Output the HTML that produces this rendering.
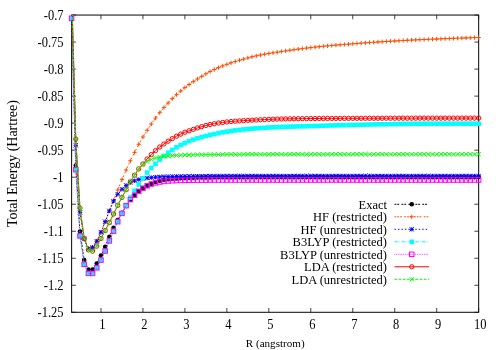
<!DOCTYPE html><html><head><meta charset="utf-8"><title>H2 dissociation</title>
<style>html,body{margin:0;padding:0;background:#fff}svg{display:block;will-change:transform}text{font-family:"Liberation Serif",serif;font-size:12.5px;fill:#000}</style></head><body>
<svg width="500" height="350" viewBox="0 0 500 350">
<rect width="500" height="350" fill="#fff"/>
<defs>
<clipPath id="cp"><rect x="71.6" y="15.05" width="407.04999999999995" height="297.25"/></clipPath>
<g id="dot"><circle r="2.3" stroke="none" fill="currentColor"/></g>
<g id="plus"><path d="M-2.15 0H2.15M0 -2.15V2.15" fill="none"/></g>
<g id="x"><path d="M-2.15 -2.15L2.15 2.15M-2.15 2.15L2.15 -2.15" fill="none"/></g>
<g id="star"><path d="M-2.15 0H2.15M0 -2.15V2.15M-2.15 -2.15L2.15 2.15M-2.15 2.15L2.15 -2.15" fill="none"/></g>
<g id="boxf"><rect x="-2.3" y="-2.3" width="4.6" height="4.6" fill="currentColor" stroke="none"/></g>
<g id="box"><rect x="-2.25" y="-2.25" width="4.5" height="4.5" fill="none"/></g>
<g id="circ"><circle r="2.15" fill="none"/></g>
</defs>
<g stroke="#111" stroke-width="1.05" fill="none"><rect x="71.6" y="15.05" width="407.04999999999995" height="297.25"/>
<path d="M71.6 15.05h4.3M478.65 15.05h-4.3M71.6 42.07h4.3M478.65 42.07h-4.3M71.6 69.10h4.3M478.65 69.10h-4.3M71.6 96.12h4.3M478.65 96.12h-4.3M71.6 123.14h4.3M478.65 123.14h-4.3M71.6 150.16h4.3M478.65 150.16h-4.3M71.6 177.19h4.3M478.65 177.19h-4.3M71.6 204.21h4.3M478.65 204.21h-4.3M71.6 231.23h4.3M478.65 231.23h-4.3M71.6 258.25h4.3M478.65 258.25h-4.3M71.6 285.28h4.3M478.65 285.28h-4.3M71.6 312.30h4.3M478.65 312.30h-4.3M100.97 312.3v-4.3M100.97 15.05v4.3M142.94 312.3v-4.3M142.94 15.05v4.3M184.90 312.3v-4.3M184.90 15.05v4.3M226.87 312.3v-4.3M226.87 15.05v4.3M268.83 312.3v-4.3M268.83 15.05v4.3M310.79 312.3v-4.3M310.79 15.05v4.3M352.76 312.3v-4.3M352.76 15.05v4.3M394.72 312.3v-4.3M394.72 15.05v4.3M436.69 312.3v-4.3M436.69 15.05v4.3M478.65 312.3v-4.3M478.65 15.05v4.3" stroke-width="0.8"/></g>
<text transform="translate(63.5,19.75) scale(1,1.1)" text-anchor="end">-0.7</text>
<text transform="translate(63.5,46.77) scale(1,1.1)" text-anchor="end">-0.75</text>
<text transform="translate(63.5,73.80) scale(1,1.1)" text-anchor="end">-0.8</text>
<text transform="translate(63.5,100.82) scale(1,1.1)" text-anchor="end">-0.85</text>
<text transform="translate(63.5,127.84) scale(1,1.1)" text-anchor="end">-0.9</text>
<text transform="translate(63.5,154.86) scale(1,1.1)" text-anchor="end">-0.95</text>
<text transform="translate(63.5,181.89) scale(1,1.1)" text-anchor="end">-1</text>
<text transform="translate(63.5,208.91) scale(1,1.1)" text-anchor="end">-1.05</text>
<text transform="translate(63.5,235.93) scale(1,1.1)" text-anchor="end">-1.1</text>
<text transform="translate(63.5,262.95) scale(1,1.1)" text-anchor="end">-1.15</text>
<text transform="translate(63.5,289.98) scale(1,1.1)" text-anchor="end">-1.2</text>
<text transform="translate(63.5,317.00) scale(1,1.1)" text-anchor="end">-1.25</text>
<text transform="translate(102.47,329.3) scale(1,1.1)" text-anchor="middle">1</text>
<text transform="translate(144.44,329.3) scale(1,1.1)" text-anchor="middle">2</text>
<text transform="translate(186.40,329.3) scale(1,1.1)" text-anchor="middle">3</text>
<text transform="translate(228.37,329.3) scale(1,1.1)" text-anchor="middle">4</text>
<text transform="translate(270.33,329.3) scale(1,1.1)" text-anchor="middle">5</text>
<text transform="translate(312.29,329.3) scale(1,1.1)" text-anchor="middle">6</text>
<text transform="translate(354.26,329.3) scale(1,1.1)" text-anchor="middle">7</text>
<text transform="translate(396.22,329.3) scale(1,1.1)" text-anchor="middle">8</text>
<text transform="translate(438.19,329.3) scale(1,1.1)" text-anchor="middle">9</text>
<text transform="translate(480.15,329.3) scale(1,1.1)" text-anchor="middle">10</text>
<text x="275.2" y="347.1" text-anchor="middle" style="font-size:11.1px">R (angstrom)</text>
<text transform="translate(17.2,163.6) rotate(-90)" text-anchor="middle" style="font-size:14px">Total Energy (Hartree)</text>
<text x="387" y="208.60" text-anchor="end">Exact</text>
<g stroke="#000000" color="#000000" stroke-width="1.0" fill="none">
<path d="M394.5 204.30H429" stroke-dasharray="1.9,0.9,1.9,2.25"/><use href="#dot" x="411.75" y="204.30"/>
<polyline points="71.60,13.00 75.80,165.50 79.99,231.60 84.19,260.10 88.39,269.50 92.58,269.50 96.78,263.60 100.97,255.60 105.17,246.80 109.37,236.70 113.56,227.70 117.76,220.00 121.96,212.80 126.15,206.00 130.35,199.80 134.55,195.40 138.74,191.20 142.94,188.20 147.14,185.80 151.33,183.80 155.53,182.20 159.72,181.00 163.92,180.00 168.12,179.30 172.31,178.80 176.51,178.43 180.71,178.12 184.90,177.90 189.10,177.76 193.30,177.64 197.49,177.54 201.69,177.46 205.88,177.40 210.08,177.35 214.28,177.30 218.47,177.26 222.67,177.22 226.87,177.20 231.06,177.18 235.26,177.17 239.46,177.15 243.65,177.14 247.85,177.13 252.04,177.12 256.24,177.11 260.44,177.10 264.63,177.10 268.83,177.10 273.03,177.10 277.22,177.10 281.42,177.10 285.62,177.10 289.81,177.10 294.01,177.10 298.21,177.10 302.40,177.10 306.60,177.10 310.79,177.10 314.99,177.10 319.19,177.10 323.38,177.10 327.58,177.10 331.78,177.10 335.97,177.10 340.17,177.10 344.37,177.10 348.56,177.10 352.76,177.10 356.95,177.10 361.15,177.10 365.35,177.10 369.54,177.10 373.74,177.10 377.94,177.10 382.13,177.10 386.33,177.10 390.53,177.10 394.72,177.10 398.92,177.10 403.11,177.10 407.31,177.10 411.51,177.10 415.70,177.10 419.90,177.10 424.10,177.10 428.29,177.10 432.49,177.10 436.69,177.10 440.88,177.10 445.08,177.10 449.28,177.10 453.47,177.10 457.67,177.10 461.86,177.10 466.06,177.10 470.26,177.10 474.45,177.10 478.65,177.10" stroke-dasharray="1.9,0.9,1.9,2.25" clip-path="url(#cp)"/>
<use href="#dot" x="75.80" y="165.50"/>
<use href="#dot" x="79.99" y="231.60"/>
<use href="#dot" x="84.19" y="260.10"/>
<use href="#dot" x="88.39" y="269.50"/>
<use href="#dot" x="92.58" y="269.50"/>
<use href="#dot" x="96.78" y="263.60"/>
<use href="#dot" x="100.97" y="255.60"/>
<use href="#dot" x="105.17" y="246.80"/>
<use href="#dot" x="109.37" y="236.70"/>
<use href="#dot" x="113.56" y="227.70"/>
<use href="#dot" x="117.76" y="220.00"/>
<use href="#dot" x="121.96" y="212.80"/>
<use href="#dot" x="126.15" y="206.00"/>
<use href="#dot" x="130.35" y="199.80"/>
<use href="#dot" x="134.55" y="195.40"/>
<use href="#dot" x="138.74" y="191.20"/>
<use href="#dot" x="142.94" y="188.20"/>
<use href="#dot" x="147.14" y="185.80"/>
<use href="#dot" x="151.33" y="183.80"/>
<use href="#dot" x="155.53" y="182.20"/>
<use href="#dot" x="159.72" y="181.00"/>
<use href="#dot" x="163.92" y="180.00"/>
<use href="#dot" x="168.12" y="179.30"/>
<use href="#dot" x="172.31" y="178.80"/>
<use href="#dot" x="176.51" y="178.43"/>
<use href="#dot" x="180.71" y="178.12"/>
<use href="#dot" x="184.90" y="177.90"/>
<use href="#dot" x="189.10" y="177.76"/>
<use href="#dot" x="193.30" y="177.64"/>
<use href="#dot" x="197.49" y="177.54"/>
<use href="#dot" x="201.69" y="177.46"/>
<use href="#dot" x="205.88" y="177.40"/>
<use href="#dot" x="210.08" y="177.35"/>
<use href="#dot" x="214.28" y="177.30"/>
<use href="#dot" x="218.47" y="177.26"/>
<use href="#dot" x="222.67" y="177.22"/>
<use href="#dot" x="226.87" y="177.20"/>
<use href="#dot" x="231.06" y="177.18"/>
<use href="#dot" x="235.26" y="177.17"/>
<use href="#dot" x="239.46" y="177.15"/>
<use href="#dot" x="243.65" y="177.14"/>
<use href="#dot" x="247.85" y="177.13"/>
<use href="#dot" x="252.04" y="177.12"/>
<use href="#dot" x="256.24" y="177.11"/>
<use href="#dot" x="260.44" y="177.10"/>
<use href="#dot" x="264.63" y="177.10"/>
<use href="#dot" x="268.83" y="177.10"/>
<use href="#dot" x="273.03" y="177.10"/>
<use href="#dot" x="277.22" y="177.10"/>
<use href="#dot" x="281.42" y="177.10"/>
<use href="#dot" x="285.62" y="177.10"/>
<use href="#dot" x="289.81" y="177.10"/>
<use href="#dot" x="294.01" y="177.10"/>
<use href="#dot" x="298.21" y="177.10"/>
<use href="#dot" x="302.40" y="177.10"/>
<use href="#dot" x="306.60" y="177.10"/>
<use href="#dot" x="310.79" y="177.10"/>
<use href="#dot" x="314.99" y="177.10"/>
<use href="#dot" x="319.19" y="177.10"/>
<use href="#dot" x="323.38" y="177.10"/>
<use href="#dot" x="327.58" y="177.10"/>
<use href="#dot" x="331.78" y="177.10"/>
<use href="#dot" x="335.97" y="177.10"/>
<use href="#dot" x="340.17" y="177.10"/>
<use href="#dot" x="344.37" y="177.10"/>
<use href="#dot" x="348.56" y="177.10"/>
<use href="#dot" x="352.76" y="177.10"/>
<use href="#dot" x="356.95" y="177.10"/>
<use href="#dot" x="361.15" y="177.10"/>
<use href="#dot" x="365.35" y="177.10"/>
<use href="#dot" x="369.54" y="177.10"/>
<use href="#dot" x="373.74" y="177.10"/>
<use href="#dot" x="377.94" y="177.10"/>
<use href="#dot" x="382.13" y="177.10"/>
<use href="#dot" x="386.33" y="177.10"/>
<use href="#dot" x="390.53" y="177.10"/>
<use href="#dot" x="394.72" y="177.10"/>
<use href="#dot" x="398.92" y="177.10"/>
<use href="#dot" x="403.11" y="177.10"/>
<use href="#dot" x="407.31" y="177.10"/>
<use href="#dot" x="411.51" y="177.10"/>
<use href="#dot" x="415.70" y="177.10"/>
<use href="#dot" x="419.90" y="177.10"/>
<use href="#dot" x="424.10" y="177.10"/>
<use href="#dot" x="428.29" y="177.10"/>
<use href="#dot" x="432.49" y="177.10"/>
<use href="#dot" x="436.69" y="177.10"/>
<use href="#dot" x="440.88" y="177.10"/>
<use href="#dot" x="445.08" y="177.10"/>
<use href="#dot" x="449.28" y="177.10"/>
<use href="#dot" x="453.47" y="177.10"/>
<use href="#dot" x="457.67" y="177.10"/>
<use href="#dot" x="461.86" y="177.10"/>
<use href="#dot" x="466.06" y="177.10"/>
<use href="#dot" x="470.26" y="177.10"/>
<use href="#dot" x="474.45" y="177.10"/>
<use href="#dot" x="478.65" y="177.10"/>
</g>
<text x="387" y="221.10" text-anchor="end">HF (restricted)</text>
<g stroke="#ff4d00" color="#ff4d00" stroke-width="1.0" fill="none">
<path d="M394.5 216.80H429" stroke-dasharray="1.8,1.0,1.8,1.0,1.8,2.35"/><use href="#plus" x="411.75" y="216.80"/>
<polyline points="71.60,-6.00 75.80,145.30 79.99,212.30 84.19,239.10 88.39,248.60 92.58,247.30 96.78,241.20 100.97,232.20 105.17,221.70 109.37,210.90 113.56,200.40 117.76,190.00 121.96,179.60 126.15,170.00 130.35,160.80 134.55,152.40 138.74,144.30 142.94,137.00 147.14,130.30 151.33,124.00 155.53,118.10 159.72,112.70 163.92,107.60 168.12,103.00 172.31,98.60 176.51,94.60 180.71,91.00 184.90,87.60 189.10,84.50 193.30,81.60 197.49,79.00 201.69,76.40 205.88,73.80 210.08,71.60 214.28,69.50 218.47,67.60 222.67,65.90 226.87,64.30 231.06,62.80 235.26,61.50 239.46,60.20 243.65,59.10 247.85,57.90 252.04,56.80 256.24,55.90 260.44,55.00 264.63,54.20 268.83,53.50 273.03,52.80 277.22,52.20 281.42,51.50 285.62,50.90 289.81,50.30 294.01,49.70 298.21,49.14 302.40,48.60 306.60,48.09 310.79,47.60 314.99,47.14 319.19,46.70 323.38,46.28 327.58,45.88 331.78,45.50 335.97,45.13 340.17,44.78 344.37,44.45 348.56,44.12 352.76,43.80 356.95,43.48 361.15,43.17 365.35,42.86 369.54,42.56 373.74,42.28 377.94,42.00 382.13,41.73 386.33,41.47 390.53,41.22 394.72,40.97 398.92,40.74 403.11,40.51 407.31,40.29 411.51,40.08 415.70,39.89 419.90,39.70 424.10,39.51 428.29,39.34 432.49,39.17 436.69,39.00 440.88,38.84 445.08,38.67 449.28,38.51 453.47,38.36 457.67,38.21 461.86,38.06 466.06,37.91 470.26,37.77 474.45,37.63 478.65,37.50" stroke-dasharray="1.8,1.0,1.8,1.0,1.8,2.35" clip-path="url(#cp)"/>
<use href="#plus" x="75.80" y="145.30"/>
<use href="#plus" x="79.99" y="212.30"/>
<use href="#plus" x="84.19" y="239.10"/>
<use href="#plus" x="88.39" y="248.60"/>
<use href="#plus" x="92.58" y="247.30"/>
<use href="#plus" x="96.78" y="241.20"/>
<use href="#plus" x="100.97" y="232.20"/>
<use href="#plus" x="105.17" y="221.70"/>
<use href="#plus" x="109.37" y="210.90"/>
<use href="#plus" x="113.56" y="200.40"/>
<use href="#plus" x="117.76" y="190.00"/>
<use href="#plus" x="121.96" y="179.60"/>
<use href="#plus" x="126.15" y="170.00"/>
<use href="#plus" x="130.35" y="160.80"/>
<use href="#plus" x="134.55" y="152.40"/>
<use href="#plus" x="138.74" y="144.30"/>
<use href="#plus" x="142.94" y="137.00"/>
<use href="#plus" x="147.14" y="130.30"/>
<use href="#plus" x="151.33" y="124.00"/>
<use href="#plus" x="155.53" y="118.10"/>
<use href="#plus" x="159.72" y="112.70"/>
<use href="#plus" x="163.92" y="107.60"/>
<use href="#plus" x="168.12" y="103.00"/>
<use href="#plus" x="172.31" y="98.60"/>
<use href="#plus" x="176.51" y="94.60"/>
<use href="#plus" x="180.71" y="91.00"/>
<use href="#plus" x="184.90" y="87.60"/>
<use href="#plus" x="189.10" y="84.50"/>
<use href="#plus" x="193.30" y="81.60"/>
<use href="#plus" x="197.49" y="79.00"/>
<use href="#plus" x="201.69" y="76.40"/>
<use href="#plus" x="205.88" y="73.80"/>
<use href="#plus" x="210.08" y="71.60"/>
<use href="#plus" x="214.28" y="69.50"/>
<use href="#plus" x="218.47" y="67.60"/>
<use href="#plus" x="222.67" y="65.90"/>
<use href="#plus" x="226.87" y="64.30"/>
<use href="#plus" x="231.06" y="62.80"/>
<use href="#plus" x="235.26" y="61.50"/>
<use href="#plus" x="239.46" y="60.20"/>
<use href="#plus" x="243.65" y="59.10"/>
<use href="#plus" x="247.85" y="57.90"/>
<use href="#plus" x="252.04" y="56.80"/>
<use href="#plus" x="256.24" y="55.90"/>
<use href="#plus" x="260.44" y="55.00"/>
<use href="#plus" x="264.63" y="54.20"/>
<use href="#plus" x="268.83" y="53.50"/>
<use href="#plus" x="273.03" y="52.80"/>
<use href="#plus" x="277.22" y="52.20"/>
<use href="#plus" x="281.42" y="51.50"/>
<use href="#plus" x="285.62" y="50.90"/>
<use href="#plus" x="289.81" y="50.30"/>
<use href="#plus" x="294.01" y="49.70"/>
<use href="#plus" x="298.21" y="49.14"/>
<use href="#plus" x="302.40" y="48.60"/>
<use href="#plus" x="306.60" y="48.09"/>
<use href="#plus" x="310.79" y="47.60"/>
<use href="#plus" x="314.99" y="47.14"/>
<use href="#plus" x="319.19" y="46.70"/>
<use href="#plus" x="323.38" y="46.28"/>
<use href="#plus" x="327.58" y="45.88"/>
<use href="#plus" x="331.78" y="45.50"/>
<use href="#plus" x="335.97" y="45.13"/>
<use href="#plus" x="340.17" y="44.78"/>
<use href="#plus" x="344.37" y="44.45"/>
<use href="#plus" x="348.56" y="44.12"/>
<use href="#plus" x="352.76" y="43.80"/>
<use href="#plus" x="356.95" y="43.48"/>
<use href="#plus" x="361.15" y="43.17"/>
<use href="#plus" x="365.35" y="42.86"/>
<use href="#plus" x="369.54" y="42.56"/>
<use href="#plus" x="373.74" y="42.28"/>
<use href="#plus" x="377.94" y="42.00"/>
<use href="#plus" x="382.13" y="41.73"/>
<use href="#plus" x="386.33" y="41.47"/>
<use href="#plus" x="390.53" y="41.22"/>
<use href="#plus" x="394.72" y="40.97"/>
<use href="#plus" x="398.92" y="40.74"/>
<use href="#plus" x="403.11" y="40.51"/>
<use href="#plus" x="407.31" y="40.29"/>
<use href="#plus" x="411.51" y="40.08"/>
<use href="#plus" x="415.70" y="39.89"/>
<use href="#plus" x="419.90" y="39.70"/>
<use href="#plus" x="424.10" y="39.51"/>
<use href="#plus" x="428.29" y="39.34"/>
<use href="#plus" x="432.49" y="39.17"/>
<use href="#plus" x="436.69" y="39.00"/>
<use href="#plus" x="440.88" y="38.84"/>
<use href="#plus" x="445.08" y="38.67"/>
<use href="#plus" x="449.28" y="38.51"/>
<use href="#plus" x="453.47" y="38.36"/>
<use href="#plus" x="457.67" y="38.21"/>
<use href="#plus" x="461.86" y="38.06"/>
<use href="#plus" x="466.06" y="37.91"/>
<use href="#plus" x="470.26" y="37.77"/>
<use href="#plus" x="474.45" y="37.63"/>
<use href="#plus" x="478.65" y="37.50"/>
</g>
<text x="387" y="233.60" text-anchor="end">HF (unrestricted)</text>
<g stroke="#0000ff" color="#0000ff" stroke-width="1.0" fill="none">
<path d="M394.5 229.30H429" stroke-dasharray="1.39,2.08"/><use href="#star" x="411.75" y="229.30"/>
<polyline points="71.60,-6.00 75.80,145.30 79.99,212.30 84.19,239.10 88.39,248.60 92.58,247.30 96.78,241.20 100.97,232.20 105.17,221.70 109.37,210.90 113.56,201.20 117.76,194.20 121.96,189.30 126.15,185.40 130.35,182.40 134.55,180.80 138.74,179.50 142.94,178.60 147.14,178.00 151.33,177.60 155.53,177.20 159.72,176.90 163.92,176.70 168.12,176.58 172.31,176.49 176.51,176.42 180.71,176.35 184.90,176.30 189.10,176.25 193.30,176.20 197.49,176.16 201.69,176.13 205.88,176.10 210.08,176.07 214.28,176.05 218.47,176.02 222.67,176.01 226.87,176.00 231.06,176.00 235.26,176.00 239.46,176.00 243.65,176.00 247.85,176.00 252.04,176.00 256.24,176.00 260.44,176.00 264.63,176.00 268.83,176.00 273.03,176.00 277.22,176.00 281.42,176.00 285.62,176.00 289.81,176.00 294.01,176.00 298.21,176.00 302.40,176.00 306.60,176.00 310.79,176.00 314.99,176.00 319.19,176.00 323.38,176.00 327.58,176.00 331.78,176.00 335.97,176.00 340.17,176.00 344.37,176.00 348.56,176.00 352.76,176.00 356.95,176.00 361.15,176.00 365.35,176.00 369.54,176.00 373.74,176.00 377.94,176.00 382.13,176.00 386.33,176.00 390.53,176.00 394.72,176.00 398.92,176.00 403.11,176.00 407.31,176.00 411.51,176.00 415.70,176.00 419.90,176.00 424.10,176.00 428.29,176.00 432.49,176.00 436.69,176.00 440.88,176.00 445.08,176.00 449.28,176.00 453.47,176.00 457.67,176.00 461.86,176.00 466.06,176.00 470.26,176.00 474.45,176.00 478.65,176.00" stroke-dasharray="1.39,2.08" clip-path="url(#cp)"/>
<use href="#star" x="75.80" y="145.30"/>
<use href="#star" x="79.99" y="212.30"/>
<use href="#star" x="84.19" y="239.10"/>
<use href="#star" x="88.39" y="248.60"/>
<use href="#star" x="92.58" y="247.30"/>
<use href="#star" x="96.78" y="241.20"/>
<use href="#star" x="100.97" y="232.20"/>
<use href="#star" x="105.17" y="221.70"/>
<use href="#star" x="109.37" y="210.90"/>
<use href="#star" x="113.56" y="201.20"/>
<use href="#star" x="117.76" y="194.20"/>
<use href="#star" x="121.96" y="189.30"/>
<use href="#star" x="126.15" y="185.40"/>
<use href="#star" x="130.35" y="182.40"/>
<use href="#star" x="134.55" y="180.80"/>
<use href="#star" x="138.74" y="179.50"/>
<use href="#star" x="142.94" y="178.60"/>
<use href="#star" x="147.14" y="178.00"/>
<use href="#star" x="151.33" y="177.60"/>
<use href="#star" x="155.53" y="177.20"/>
<use href="#star" x="159.72" y="176.90"/>
<use href="#star" x="163.92" y="176.70"/>
<use href="#star" x="168.12" y="176.58"/>
<use href="#star" x="172.31" y="176.49"/>
<use href="#star" x="176.51" y="176.42"/>
<use href="#star" x="180.71" y="176.35"/>
<use href="#star" x="184.90" y="176.30"/>
<use href="#star" x="189.10" y="176.25"/>
<use href="#star" x="193.30" y="176.20"/>
<use href="#star" x="197.49" y="176.16"/>
<use href="#star" x="201.69" y="176.13"/>
<use href="#star" x="205.88" y="176.10"/>
<use href="#star" x="210.08" y="176.07"/>
<use href="#star" x="214.28" y="176.05"/>
<use href="#star" x="218.47" y="176.02"/>
<use href="#star" x="222.67" y="176.01"/>
<use href="#star" x="226.87" y="176.00"/>
<use href="#star" x="231.06" y="176.00"/>
<use href="#star" x="235.26" y="176.00"/>
<use href="#star" x="239.46" y="176.00"/>
<use href="#star" x="243.65" y="176.00"/>
<use href="#star" x="247.85" y="176.00"/>
<use href="#star" x="252.04" y="176.00"/>
<use href="#star" x="256.24" y="176.00"/>
<use href="#star" x="260.44" y="176.00"/>
<use href="#star" x="264.63" y="176.00"/>
<use href="#star" x="268.83" y="176.00"/>
<use href="#star" x="273.03" y="176.00"/>
<use href="#star" x="277.22" y="176.00"/>
<use href="#star" x="281.42" y="176.00"/>
<use href="#star" x="285.62" y="176.00"/>
<use href="#star" x="289.81" y="176.00"/>
<use href="#star" x="294.01" y="176.00"/>
<use href="#star" x="298.21" y="176.00"/>
<use href="#star" x="302.40" y="176.00"/>
<use href="#star" x="306.60" y="176.00"/>
<use href="#star" x="310.79" y="176.00"/>
<use href="#star" x="314.99" y="176.00"/>
<use href="#star" x="319.19" y="176.00"/>
<use href="#star" x="323.38" y="176.00"/>
<use href="#star" x="327.58" y="176.00"/>
<use href="#star" x="331.78" y="176.00"/>
<use href="#star" x="335.97" y="176.00"/>
<use href="#star" x="340.17" y="176.00"/>
<use href="#star" x="344.37" y="176.00"/>
<use href="#star" x="348.56" y="176.00"/>
<use href="#star" x="352.76" y="176.00"/>
<use href="#star" x="356.95" y="176.00"/>
<use href="#star" x="361.15" y="176.00"/>
<use href="#star" x="365.35" y="176.00"/>
<use href="#star" x="369.54" y="176.00"/>
<use href="#star" x="373.74" y="176.00"/>
<use href="#star" x="377.94" y="176.00"/>
<use href="#star" x="382.13" y="176.00"/>
<use href="#star" x="386.33" y="176.00"/>
<use href="#star" x="390.53" y="176.00"/>
<use href="#star" x="394.72" y="176.00"/>
<use href="#star" x="398.92" y="176.00"/>
<use href="#star" x="403.11" y="176.00"/>
<use href="#star" x="407.31" y="176.00"/>
<use href="#star" x="411.51" y="176.00"/>
<use href="#star" x="415.70" y="176.00"/>
<use href="#star" x="419.90" y="176.00"/>
<use href="#star" x="424.10" y="176.00"/>
<use href="#star" x="428.29" y="176.00"/>
<use href="#star" x="432.49" y="176.00"/>
<use href="#star" x="436.69" y="176.00"/>
<use href="#star" x="440.88" y="176.00"/>
<use href="#star" x="445.08" y="176.00"/>
<use href="#star" x="449.28" y="176.00"/>
<use href="#star" x="453.47" y="176.00"/>
<use href="#star" x="457.67" y="176.00"/>
<use href="#star" x="461.86" y="176.00"/>
<use href="#star" x="466.06" y="176.00"/>
<use href="#star" x="470.26" y="176.00"/>
<use href="#star" x="474.45" y="176.00"/>
<use href="#star" x="478.65" y="176.00"/>
</g>
<text x="387" y="246.10" text-anchor="end">B3LYP (restricted)</text>
<g stroke="#00ffff" color="#00ffff" stroke-width="1.0" fill="none">
<path d="M394.5 241.80H429" stroke-dasharray="3.47,1.39,0.69,1.39"/><use href="#boxf" x="411.75" y="241.80"/>
<polyline points="71.60,18.20 75.80,169.70 79.99,235.90 84.19,264.30 88.39,273.40 92.58,273.40 96.78,267.80 100.97,260.10 105.17,251.00 109.37,240.90 113.56,231.20 117.76,221.70 121.96,213.40 126.15,205.70 130.35,197.60 134.55,190.80 138.74,184.50 142.94,178.20 147.14,172.60 151.33,168.00 155.53,163.80 159.72,159.60 163.92,155.90 168.12,152.70 172.31,149.90 176.51,147.30 180.71,145.00 184.90,143.00 189.10,141.20 193.30,139.60 197.49,138.28 201.69,137.09 205.88,136.00 210.08,135.00 214.28,134.06 218.47,133.17 222.67,132.34 226.87,131.61 231.06,130.98 235.26,130.43 239.46,129.91 243.65,129.44 247.85,129.02 252.04,128.65 256.24,128.32 260.44,128.03 264.63,127.76 268.83,127.51 273.03,127.30 277.22,127.10 281.42,126.94 285.62,126.79 289.81,126.66 294.01,126.55 298.21,126.43 302.40,126.33 306.60,126.22 310.79,126.10 314.99,125.98 319.19,125.85 323.38,125.72 327.58,125.59 331.78,125.46 335.97,125.34 340.17,125.22 344.37,125.12 348.56,125.02 352.76,124.93 356.95,124.83 361.15,124.73 365.35,124.63 369.54,124.54 373.74,124.45 377.94,124.36 382.13,124.27 386.33,124.19 390.53,124.11 394.72,124.04 398.92,123.98 403.11,123.92 407.31,123.88 411.51,123.84 415.70,123.81 419.90,123.80 424.10,123.79 428.29,123.77 432.49,123.76 436.69,123.75 440.88,123.74 445.08,123.73 449.28,123.73 453.47,123.72 457.67,123.71 461.86,123.71 466.06,123.71 470.26,123.70 474.45,123.70 478.65,123.70" stroke-dasharray="3.47,1.39,0.69,1.39" clip-path="url(#cp)"/>
<use href="#boxf" x="71.60" y="18.20"/>
<use href="#boxf" x="75.80" y="169.70"/>
<use href="#boxf" x="79.99" y="235.90"/>
<use href="#boxf" x="84.19" y="264.30"/>
<use href="#boxf" x="88.39" y="273.40"/>
<use href="#boxf" x="92.58" y="273.40"/>
<use href="#boxf" x="96.78" y="267.80"/>
<use href="#boxf" x="100.97" y="260.10"/>
<use href="#boxf" x="105.17" y="251.00"/>
<use href="#boxf" x="109.37" y="240.90"/>
<use href="#boxf" x="113.56" y="231.20"/>
<use href="#boxf" x="117.76" y="221.70"/>
<use href="#boxf" x="121.96" y="213.40"/>
<use href="#boxf" x="126.15" y="205.70"/>
<use href="#boxf" x="130.35" y="197.60"/>
<use href="#boxf" x="134.55" y="190.80"/>
<use href="#boxf" x="138.74" y="184.50"/>
<use href="#boxf" x="142.94" y="178.20"/>
<use href="#boxf" x="147.14" y="172.60"/>
<use href="#boxf" x="151.33" y="168.00"/>
<use href="#boxf" x="155.53" y="163.80"/>
<use href="#boxf" x="159.72" y="159.60"/>
<use href="#boxf" x="163.92" y="155.90"/>
<use href="#boxf" x="168.12" y="152.70"/>
<use href="#boxf" x="172.31" y="149.90"/>
<use href="#boxf" x="176.51" y="147.30"/>
<use href="#boxf" x="180.71" y="145.00"/>
<use href="#boxf" x="184.90" y="143.00"/>
<use href="#boxf" x="189.10" y="141.20"/>
<use href="#boxf" x="193.30" y="139.60"/>
<use href="#boxf" x="197.49" y="138.28"/>
<use href="#boxf" x="201.69" y="137.09"/>
<use href="#boxf" x="205.88" y="136.00"/>
<use href="#boxf" x="210.08" y="135.00"/>
<use href="#boxf" x="214.28" y="134.06"/>
<use href="#boxf" x="218.47" y="133.17"/>
<use href="#boxf" x="222.67" y="132.34"/>
<use href="#boxf" x="226.87" y="131.61"/>
<use href="#boxf" x="231.06" y="130.98"/>
<use href="#boxf" x="235.26" y="130.43"/>
<use href="#boxf" x="239.46" y="129.91"/>
<use href="#boxf" x="243.65" y="129.44"/>
<use href="#boxf" x="247.85" y="129.02"/>
<use href="#boxf" x="252.04" y="128.65"/>
<use href="#boxf" x="256.24" y="128.32"/>
<use href="#boxf" x="260.44" y="128.03"/>
<use href="#boxf" x="264.63" y="127.76"/>
<use href="#boxf" x="268.83" y="127.51"/>
<use href="#boxf" x="273.03" y="127.30"/>
<use href="#boxf" x="277.22" y="127.10"/>
<use href="#boxf" x="281.42" y="126.94"/>
<use href="#boxf" x="285.62" y="126.79"/>
<use href="#boxf" x="289.81" y="126.66"/>
<use href="#boxf" x="294.01" y="126.55"/>
<use href="#boxf" x="298.21" y="126.43"/>
<use href="#boxf" x="302.40" y="126.33"/>
<use href="#boxf" x="306.60" y="126.22"/>
<use href="#boxf" x="310.79" y="126.10"/>
<use href="#boxf" x="314.99" y="125.98"/>
<use href="#boxf" x="319.19" y="125.85"/>
<use href="#boxf" x="323.38" y="125.72"/>
<use href="#boxf" x="327.58" y="125.59"/>
<use href="#boxf" x="331.78" y="125.46"/>
<use href="#boxf" x="335.97" y="125.34"/>
<use href="#boxf" x="340.17" y="125.22"/>
<use href="#boxf" x="344.37" y="125.12"/>
<use href="#boxf" x="348.56" y="125.02"/>
<use href="#boxf" x="352.76" y="124.93"/>
<use href="#boxf" x="356.95" y="124.83"/>
<use href="#boxf" x="361.15" y="124.73"/>
<use href="#boxf" x="365.35" y="124.63"/>
<use href="#boxf" x="369.54" y="124.54"/>
<use href="#boxf" x="373.74" y="124.45"/>
<use href="#boxf" x="377.94" y="124.36"/>
<use href="#boxf" x="382.13" y="124.27"/>
<use href="#boxf" x="386.33" y="124.19"/>
<use href="#boxf" x="390.53" y="124.11"/>
<use href="#boxf" x="394.72" y="124.04"/>
<use href="#boxf" x="398.92" y="123.98"/>
<use href="#boxf" x="403.11" y="123.92"/>
<use href="#boxf" x="407.31" y="123.88"/>
<use href="#boxf" x="411.51" y="123.84"/>
<use href="#boxf" x="415.70" y="123.81"/>
<use href="#boxf" x="419.90" y="123.80"/>
<use href="#boxf" x="424.10" y="123.79"/>
<use href="#boxf" x="428.29" y="123.77"/>
<use href="#boxf" x="432.49" y="123.76"/>
<use href="#boxf" x="436.69" y="123.75"/>
<use href="#boxf" x="440.88" y="123.74"/>
<use href="#boxf" x="445.08" y="123.73"/>
<use href="#boxf" x="449.28" y="123.73"/>
<use href="#boxf" x="453.47" y="123.72"/>
<use href="#boxf" x="457.67" y="123.71"/>
<use href="#boxf" x="461.86" y="123.71"/>
<use href="#boxf" x="466.06" y="123.71"/>
<use href="#boxf" x="470.26" y="123.70"/>
<use href="#boxf" x="474.45" y="123.70"/>
<use href="#boxf" x="478.65" y="123.70"/>
</g>
<text x="387" y="258.60" text-anchor="end">B3LYP (unrestricted)</text>
<g stroke="#ff00ff" color="#ff00ff" stroke-width="1.0" fill="none">
<path d="M394.5 254.30H429" stroke-dasharray="0.69,1.04"/><use href="#box" x="411.75" y="254.30"/>
<polyline points="71.60,18.20 75.80,169.70 79.99,235.90 84.19,264.30 88.39,273.40 92.58,273.40 96.78,267.80 100.97,260.10 105.17,251.00 109.37,240.90 113.56,231.20 117.76,221.70 121.96,213.40 126.15,205.70 130.35,199.60 134.55,195.30 138.74,191.40 142.94,188.20 147.14,185.80 151.33,184.10 155.53,182.90 159.72,182.00 163.92,181.40 168.12,181.00 172.31,180.71 176.51,180.50 180.71,180.38 184.90,180.30 189.10,180.24 193.30,180.20 197.49,180.16 201.69,180.13 205.88,180.10 210.08,180.07 214.28,180.05 218.47,180.02 222.67,180.01 226.87,180.00 231.06,180.00 235.26,180.00 239.46,180.00 243.65,180.00 247.85,180.00 252.04,180.00 256.24,180.00 260.44,180.00 264.63,180.00 268.83,180.00 273.03,180.00 277.22,180.00 281.42,180.00 285.62,180.00 289.81,180.00 294.01,180.00 298.21,180.00 302.40,180.00 306.60,180.00 310.79,180.00 314.99,180.00 319.19,180.00 323.38,180.00 327.58,180.00 331.78,180.00 335.97,180.00 340.17,180.00 344.37,180.00 348.56,180.00 352.76,180.00 356.95,180.00 361.15,180.00 365.35,180.00 369.54,180.00 373.74,180.00 377.94,180.00 382.13,180.00 386.33,180.00 390.53,180.00 394.72,180.00 398.92,180.00 403.11,180.00 407.31,180.00 411.51,180.00 415.70,180.00 419.90,180.00 424.10,180.00 428.29,180.00 432.49,180.00 436.69,180.00 440.88,180.00 445.08,180.00 449.28,180.00 453.47,180.00 457.67,180.00 461.86,180.00 466.06,180.00 470.26,180.00 474.45,180.00 478.65,180.00" stroke-dasharray="0.69,1.04" clip-path="url(#cp)"/>
<use href="#box" x="71.60" y="18.20"/>
<use href="#box" x="75.80" y="169.70"/>
<use href="#box" x="79.99" y="235.90"/>
<use href="#box" x="84.19" y="264.30"/>
<use href="#box" x="88.39" y="273.40"/>
<use href="#box" x="92.58" y="273.40"/>
<use href="#box" x="96.78" y="267.80"/>
<use href="#box" x="100.97" y="260.10"/>
<use href="#box" x="105.17" y="251.00"/>
<use href="#box" x="109.37" y="240.90"/>
<use href="#box" x="113.56" y="231.20"/>
<use href="#box" x="117.76" y="221.70"/>
<use href="#box" x="121.96" y="213.40"/>
<use href="#box" x="126.15" y="205.70"/>
<use href="#box" x="130.35" y="199.60"/>
<use href="#box" x="134.55" y="195.30"/>
<use href="#box" x="138.74" y="191.40"/>
<use href="#box" x="142.94" y="188.20"/>
<use href="#box" x="147.14" y="185.80"/>
<use href="#box" x="151.33" y="184.10"/>
<use href="#box" x="155.53" y="182.90"/>
<use href="#box" x="159.72" y="182.00"/>
<use href="#box" x="163.92" y="181.40"/>
<use href="#box" x="168.12" y="181.00"/>
<use href="#box" x="172.31" y="180.71"/>
<use href="#box" x="176.51" y="180.50"/>
<use href="#box" x="180.71" y="180.38"/>
<use href="#box" x="184.90" y="180.30"/>
<use href="#box" x="189.10" y="180.24"/>
<use href="#box" x="193.30" y="180.20"/>
<use href="#box" x="197.49" y="180.16"/>
<use href="#box" x="201.69" y="180.13"/>
<use href="#box" x="205.88" y="180.10"/>
<use href="#box" x="210.08" y="180.07"/>
<use href="#box" x="214.28" y="180.05"/>
<use href="#box" x="218.47" y="180.02"/>
<use href="#box" x="222.67" y="180.01"/>
<use href="#box" x="226.87" y="180.00"/>
<use href="#box" x="231.06" y="180.00"/>
<use href="#box" x="235.26" y="180.00"/>
<use href="#box" x="239.46" y="180.00"/>
<use href="#box" x="243.65" y="180.00"/>
<use href="#box" x="247.85" y="180.00"/>
<use href="#box" x="252.04" y="180.00"/>
<use href="#box" x="256.24" y="180.00"/>
<use href="#box" x="260.44" y="180.00"/>
<use href="#box" x="264.63" y="180.00"/>
<use href="#box" x="268.83" y="180.00"/>
<use href="#box" x="273.03" y="180.00"/>
<use href="#box" x="277.22" y="180.00"/>
<use href="#box" x="281.42" y="180.00"/>
<use href="#box" x="285.62" y="180.00"/>
<use href="#box" x="289.81" y="180.00"/>
<use href="#box" x="294.01" y="180.00"/>
<use href="#box" x="298.21" y="180.00"/>
<use href="#box" x="302.40" y="180.00"/>
<use href="#box" x="306.60" y="180.00"/>
<use href="#box" x="310.79" y="180.00"/>
<use href="#box" x="314.99" y="180.00"/>
<use href="#box" x="319.19" y="180.00"/>
<use href="#box" x="323.38" y="180.00"/>
<use href="#box" x="327.58" y="180.00"/>
<use href="#box" x="331.78" y="180.00"/>
<use href="#box" x="335.97" y="180.00"/>
<use href="#box" x="340.17" y="180.00"/>
<use href="#box" x="344.37" y="180.00"/>
<use href="#box" x="348.56" y="180.00"/>
<use href="#box" x="352.76" y="180.00"/>
<use href="#box" x="356.95" y="180.00"/>
<use href="#box" x="361.15" y="180.00"/>
<use href="#box" x="365.35" y="180.00"/>
<use href="#box" x="369.54" y="180.00"/>
<use href="#box" x="373.74" y="180.00"/>
<use href="#box" x="377.94" y="180.00"/>
<use href="#box" x="382.13" y="180.00"/>
<use href="#box" x="386.33" y="180.00"/>
<use href="#box" x="390.53" y="180.00"/>
<use href="#box" x="394.72" y="180.00"/>
<use href="#box" x="398.92" y="180.00"/>
<use href="#box" x="403.11" y="180.00"/>
<use href="#box" x="407.31" y="180.00"/>
<use href="#box" x="411.51" y="180.00"/>
<use href="#box" x="415.70" y="180.00"/>
<use href="#box" x="419.90" y="180.00"/>
<use href="#box" x="424.10" y="180.00"/>
<use href="#box" x="428.29" y="180.00"/>
<use href="#box" x="432.49" y="180.00"/>
<use href="#box" x="436.69" y="180.00"/>
<use href="#box" x="440.88" y="180.00"/>
<use href="#box" x="445.08" y="180.00"/>
<use href="#box" x="449.28" y="180.00"/>
<use href="#box" x="453.47" y="180.00"/>
<use href="#box" x="457.67" y="180.00"/>
<use href="#box" x="461.86" y="180.00"/>
<use href="#box" x="466.06" y="180.00"/>
<use href="#box" x="470.26" y="180.00"/>
<use href="#box" x="474.45" y="180.00"/>
<use href="#box" x="478.65" y="180.00"/>
</g>
<text x="387" y="271.10" text-anchor="end">LDA (restricted)</text>
<g stroke="#ff0000" color="#ff0000" stroke-width="1.0" fill="none">
<path d="M394.5 266.80H429"/><use href="#circ" x="411.75" y="266.80"/>
<polyline points="71.60,-12.00 75.80,139.00 79.99,208.00 84.19,238.40 88.39,249.90 92.58,251.10 96.78,246.10 100.97,238.40 105.17,230.60 109.37,222.50 113.56,214.00 117.76,205.30 121.96,197.30 126.15,189.70 130.35,181.90 134.55,175.20 138.74,168.90 142.94,164.00 147.14,159.00 151.33,154.60 155.53,150.60 159.72,147.00 163.92,144.00 168.12,141.20 172.31,138.60 176.51,136.20 180.71,134.10 184.90,132.20 189.10,130.80 193.30,129.40 197.49,127.90 201.69,126.61 205.88,125.45 210.08,124.50 214.28,123.73 218.47,123.04 222.67,122.44 226.87,121.93 231.06,121.53 235.26,121.18 239.46,120.88 243.65,120.62 247.85,120.38 252.04,120.16 256.24,119.95 260.44,119.74 264.63,119.54 268.83,119.35 273.03,119.19 277.22,119.06 281.42,118.97 285.62,118.89 289.81,118.82 294.01,118.76 298.21,118.70 302.40,118.64 306.60,118.59 310.79,118.55 314.99,118.51 319.19,118.47 323.38,118.44 327.58,118.42 331.78,118.40 335.97,118.38 340.17,118.37 344.37,118.35 348.56,118.34 352.76,118.32 356.95,118.31 361.15,118.30 365.35,118.28 369.54,118.27 373.74,118.26 377.94,118.24 382.13,118.23 386.33,118.22 390.53,118.21 394.72,118.20 398.92,118.19 403.11,118.18 407.31,118.17 411.51,118.17 415.70,118.16 419.90,118.15 424.10,118.14 428.29,118.14 432.49,118.13 436.69,118.13 440.88,118.12 445.08,118.12 449.28,118.11 453.47,118.11 457.67,118.11 461.86,118.10 466.06,118.10 470.26,118.10 474.45,118.10 478.65,118.10" clip-path="url(#cp)"/>
<use href="#circ" x="75.80" y="139.00"/>
<use href="#circ" x="79.99" y="208.00"/>
<use href="#circ" x="84.19" y="238.40"/>
<use href="#circ" x="88.39" y="249.90"/>
<use href="#circ" x="92.58" y="251.10"/>
<use href="#circ" x="96.78" y="246.10"/>
<use href="#circ" x="100.97" y="238.40"/>
<use href="#circ" x="105.17" y="230.60"/>
<use href="#circ" x="109.37" y="222.50"/>
<use href="#circ" x="113.56" y="214.00"/>
<use href="#circ" x="117.76" y="205.30"/>
<use href="#circ" x="121.96" y="197.30"/>
<use href="#circ" x="126.15" y="189.70"/>
<use href="#circ" x="130.35" y="181.90"/>
<use href="#circ" x="134.55" y="175.20"/>
<use href="#circ" x="138.74" y="168.90"/>
<use href="#circ" x="142.94" y="164.00"/>
<use href="#circ" x="147.14" y="159.00"/>
<use href="#circ" x="151.33" y="154.60"/>
<use href="#circ" x="155.53" y="150.60"/>
<use href="#circ" x="159.72" y="147.00"/>
<use href="#circ" x="163.92" y="144.00"/>
<use href="#circ" x="168.12" y="141.20"/>
<use href="#circ" x="172.31" y="138.60"/>
<use href="#circ" x="176.51" y="136.20"/>
<use href="#circ" x="180.71" y="134.10"/>
<use href="#circ" x="184.90" y="132.20"/>
<use href="#circ" x="189.10" y="130.80"/>
<use href="#circ" x="193.30" y="129.40"/>
<use href="#circ" x="197.49" y="127.90"/>
<use href="#circ" x="201.69" y="126.61"/>
<use href="#circ" x="205.88" y="125.45"/>
<use href="#circ" x="210.08" y="124.50"/>
<use href="#circ" x="214.28" y="123.73"/>
<use href="#circ" x="218.47" y="123.04"/>
<use href="#circ" x="222.67" y="122.44"/>
<use href="#circ" x="226.87" y="121.93"/>
<use href="#circ" x="231.06" y="121.53"/>
<use href="#circ" x="235.26" y="121.18"/>
<use href="#circ" x="239.46" y="120.88"/>
<use href="#circ" x="243.65" y="120.62"/>
<use href="#circ" x="247.85" y="120.38"/>
<use href="#circ" x="252.04" y="120.16"/>
<use href="#circ" x="256.24" y="119.95"/>
<use href="#circ" x="260.44" y="119.74"/>
<use href="#circ" x="264.63" y="119.54"/>
<use href="#circ" x="268.83" y="119.35"/>
<use href="#circ" x="273.03" y="119.19"/>
<use href="#circ" x="277.22" y="119.06"/>
<use href="#circ" x="281.42" y="118.97"/>
<use href="#circ" x="285.62" y="118.89"/>
<use href="#circ" x="289.81" y="118.82"/>
<use href="#circ" x="294.01" y="118.76"/>
<use href="#circ" x="298.21" y="118.70"/>
<use href="#circ" x="302.40" y="118.64"/>
<use href="#circ" x="306.60" y="118.59"/>
<use href="#circ" x="310.79" y="118.55"/>
<use href="#circ" x="314.99" y="118.51"/>
<use href="#circ" x="319.19" y="118.47"/>
<use href="#circ" x="323.38" y="118.44"/>
<use href="#circ" x="327.58" y="118.42"/>
<use href="#circ" x="331.78" y="118.40"/>
<use href="#circ" x="335.97" y="118.38"/>
<use href="#circ" x="340.17" y="118.37"/>
<use href="#circ" x="344.37" y="118.35"/>
<use href="#circ" x="348.56" y="118.34"/>
<use href="#circ" x="352.76" y="118.32"/>
<use href="#circ" x="356.95" y="118.31"/>
<use href="#circ" x="361.15" y="118.30"/>
<use href="#circ" x="365.35" y="118.28"/>
<use href="#circ" x="369.54" y="118.27"/>
<use href="#circ" x="373.74" y="118.26"/>
<use href="#circ" x="377.94" y="118.24"/>
<use href="#circ" x="382.13" y="118.23"/>
<use href="#circ" x="386.33" y="118.22"/>
<use href="#circ" x="390.53" y="118.21"/>
<use href="#circ" x="394.72" y="118.20"/>
<use href="#circ" x="398.92" y="118.19"/>
<use href="#circ" x="403.11" y="118.18"/>
<use href="#circ" x="407.31" y="118.17"/>
<use href="#circ" x="411.51" y="118.17"/>
<use href="#circ" x="415.70" y="118.16"/>
<use href="#circ" x="419.90" y="118.15"/>
<use href="#circ" x="424.10" y="118.14"/>
<use href="#circ" x="428.29" y="118.14"/>
<use href="#circ" x="432.49" y="118.13"/>
<use href="#circ" x="436.69" y="118.13"/>
<use href="#circ" x="440.88" y="118.12"/>
<use href="#circ" x="445.08" y="118.12"/>
<use href="#circ" x="449.28" y="118.11"/>
<use href="#circ" x="453.47" y="118.11"/>
<use href="#circ" x="457.67" y="118.11"/>
<use href="#circ" x="461.86" y="118.10"/>
<use href="#circ" x="466.06" y="118.10"/>
<use href="#circ" x="470.26" y="118.10"/>
<use href="#circ" x="474.45" y="118.10"/>
<use href="#circ" x="478.65" y="118.10"/>
</g>
<text x="387" y="283.60" text-anchor="end">LDA (unrestricted)</text>
<g stroke="#00ff00" color="#00ff00" stroke-width="1.0" fill="none">
<path d="M394.5 279.30H429" stroke-dasharray="2.78,1.39"/><use href="#x" x="411.75" y="279.30"/>
<polyline points="71.60,-12.00 75.80,139.00 79.99,208.00 84.19,238.40 88.39,249.90 92.58,251.10 96.78,246.10 100.97,238.40 105.17,230.60 109.37,222.50 113.56,214.00 117.76,205.30 121.96,197.30 126.15,189.70 130.35,181.90 134.55,175.20 138.74,168.90 142.94,164.60 147.14,161.60 151.33,159.50 155.53,158.00 159.72,157.00 163.92,156.40 168.12,156.00 172.31,155.70 176.51,155.40 180.71,155.17 184.90,155.00 189.10,154.89 193.30,154.80 197.49,154.73 201.69,154.67 205.88,154.60 210.08,154.53 214.28,154.45 218.47,154.39 222.67,154.33 226.87,154.30 231.06,154.28 235.26,154.27 239.46,154.25 243.65,154.24 247.85,154.23 252.04,154.22 256.24,154.21 260.44,154.20 264.63,154.20 268.83,154.20 273.03,154.20 277.22,154.20 281.42,154.20 285.62,154.20 289.81,154.20 294.01,154.20 298.21,154.20 302.40,154.20 306.60,154.20 310.79,154.20 314.99,154.20 319.19,154.20 323.38,154.20 327.58,154.20 331.78,154.20 335.97,154.20 340.17,154.20 344.37,154.20 348.56,154.20 352.76,154.20 356.95,154.20 361.15,154.20 365.35,154.20 369.54,154.20 373.74,154.20 377.94,154.20 382.13,154.20 386.33,154.20 390.53,154.20 394.72,154.20 398.92,154.20 403.11,154.20 407.31,154.20 411.51,154.20 415.70,154.20 419.90,154.20 424.10,154.20 428.29,154.20 432.49,154.20 436.69,154.20 440.88,154.20 445.08,154.20 449.28,154.20 453.47,154.20 457.67,154.20 461.86,154.20 466.06,154.20 470.26,154.20 474.45,154.20 478.65,154.20" stroke-dasharray="2.78,1.39" clip-path="url(#cp)"/>
<use href="#x" x="75.80" y="139.00"/>
<use href="#x" x="79.99" y="208.00"/>
<use href="#x" x="84.19" y="238.40"/>
<use href="#x" x="88.39" y="249.90"/>
<use href="#x" x="92.58" y="251.10"/>
<use href="#x" x="96.78" y="246.10"/>
<use href="#x" x="100.97" y="238.40"/>
<use href="#x" x="105.17" y="230.60"/>
<use href="#x" x="109.37" y="222.50"/>
<use href="#x" x="113.56" y="214.00"/>
<use href="#x" x="117.76" y="205.30"/>
<use href="#x" x="121.96" y="197.30"/>
<use href="#x" x="126.15" y="189.70"/>
<use href="#x" x="130.35" y="181.90"/>
<use href="#x" x="134.55" y="175.20"/>
<use href="#x" x="138.74" y="168.90"/>
<use href="#x" x="142.94" y="164.60"/>
<use href="#x" x="147.14" y="161.60"/>
<use href="#x" x="151.33" y="159.50"/>
<use href="#x" x="155.53" y="158.00"/>
<use href="#x" x="159.72" y="157.00"/>
<use href="#x" x="163.92" y="156.40"/>
<use href="#x" x="168.12" y="156.00"/>
<use href="#x" x="172.31" y="155.70"/>
<use href="#x" x="176.51" y="155.40"/>
<use href="#x" x="180.71" y="155.17"/>
<use href="#x" x="184.90" y="155.00"/>
<use href="#x" x="189.10" y="154.89"/>
<use href="#x" x="193.30" y="154.80"/>
<use href="#x" x="197.49" y="154.73"/>
<use href="#x" x="201.69" y="154.67"/>
<use href="#x" x="205.88" y="154.60"/>
<use href="#x" x="210.08" y="154.53"/>
<use href="#x" x="214.28" y="154.45"/>
<use href="#x" x="218.47" y="154.39"/>
<use href="#x" x="222.67" y="154.33"/>
<use href="#x" x="226.87" y="154.30"/>
<use href="#x" x="231.06" y="154.28"/>
<use href="#x" x="235.26" y="154.27"/>
<use href="#x" x="239.46" y="154.25"/>
<use href="#x" x="243.65" y="154.24"/>
<use href="#x" x="247.85" y="154.23"/>
<use href="#x" x="252.04" y="154.22"/>
<use href="#x" x="256.24" y="154.21"/>
<use href="#x" x="260.44" y="154.20"/>
<use href="#x" x="264.63" y="154.20"/>
<use href="#x" x="268.83" y="154.20"/>
<use href="#x" x="273.03" y="154.20"/>
<use href="#x" x="277.22" y="154.20"/>
<use href="#x" x="281.42" y="154.20"/>
<use href="#x" x="285.62" y="154.20"/>
<use href="#x" x="289.81" y="154.20"/>
<use href="#x" x="294.01" y="154.20"/>
<use href="#x" x="298.21" y="154.20"/>
<use href="#x" x="302.40" y="154.20"/>
<use href="#x" x="306.60" y="154.20"/>
<use href="#x" x="310.79" y="154.20"/>
<use href="#x" x="314.99" y="154.20"/>
<use href="#x" x="319.19" y="154.20"/>
<use href="#x" x="323.38" y="154.20"/>
<use href="#x" x="327.58" y="154.20"/>
<use href="#x" x="331.78" y="154.20"/>
<use href="#x" x="335.97" y="154.20"/>
<use href="#x" x="340.17" y="154.20"/>
<use href="#x" x="344.37" y="154.20"/>
<use href="#x" x="348.56" y="154.20"/>
<use href="#x" x="352.76" y="154.20"/>
<use href="#x" x="356.95" y="154.20"/>
<use href="#x" x="361.15" y="154.20"/>
<use href="#x" x="365.35" y="154.20"/>
<use href="#x" x="369.54" y="154.20"/>
<use href="#x" x="373.74" y="154.20"/>
<use href="#x" x="377.94" y="154.20"/>
<use href="#x" x="382.13" y="154.20"/>
<use href="#x" x="386.33" y="154.20"/>
<use href="#x" x="390.53" y="154.20"/>
<use href="#x" x="394.72" y="154.20"/>
<use href="#x" x="398.92" y="154.20"/>
<use href="#x" x="403.11" y="154.20"/>
<use href="#x" x="407.31" y="154.20"/>
<use href="#x" x="411.51" y="154.20"/>
<use href="#x" x="415.70" y="154.20"/>
<use href="#x" x="419.90" y="154.20"/>
<use href="#x" x="424.10" y="154.20"/>
<use href="#x" x="428.29" y="154.20"/>
<use href="#x" x="432.49" y="154.20"/>
<use href="#x" x="436.69" y="154.20"/>
<use href="#x" x="440.88" y="154.20"/>
<use href="#x" x="445.08" y="154.20"/>
<use href="#x" x="449.28" y="154.20"/>
<use href="#x" x="453.47" y="154.20"/>
<use href="#x" x="457.67" y="154.20"/>
<use href="#x" x="461.86" y="154.20"/>
<use href="#x" x="466.06" y="154.20"/>
<use href="#x" x="470.26" y="154.20"/>
<use href="#x" x="474.45" y="154.20"/>
<use href="#x" x="478.65" y="154.20"/>
</g>
</svg></body></html>
